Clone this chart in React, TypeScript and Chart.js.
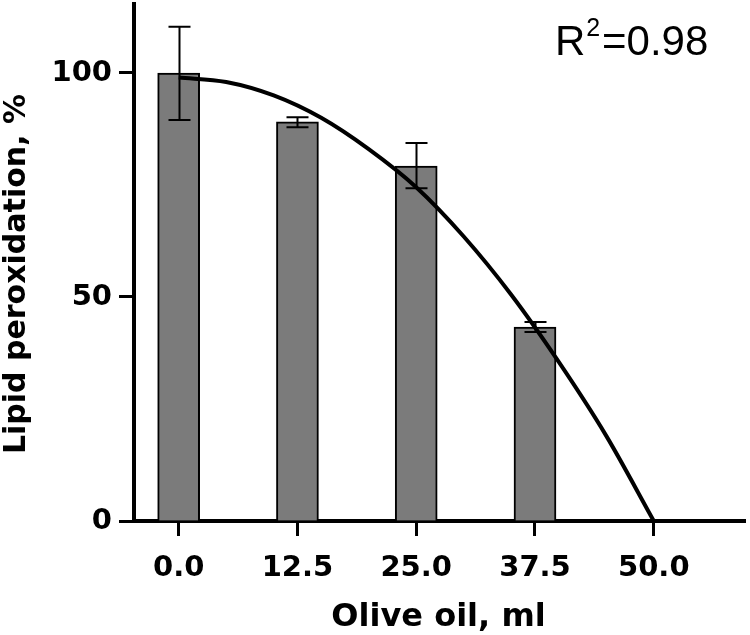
import React, { useEffect, useRef } from "react";
import { Chart, registerables } from "chart.js";
Chart.register(...registerables);

const doseTicks = [0, 12.5, 25, 37.5, 50];
const barDoses = [0, 12.5, 25, 37.5];
const barValues = [100, 89.1, 79.2, 43.3];
const errLow = [89.5, 87.9, 74.3, 42.2];
const errHigh = [110.3, 90.1, 84.4, 44.4];
const fitDoses = [0, 5, 10, 15, 20, 25, 30, 35, 40, 45, 50];
const fitValues = [99, 98, 95, 90, 83, 74.5, 63.5, 50.5, 35.5, 19, 0];
const yTickValues = [0, 50, 100];
const rSquared = "0.98";
const xTitle = "Olive oil, ml";
const yTitle = "Lipid peroxidation, %";

const boldFont = { family: "'DejaVu Sans'", weight: "bold" as const, size: 29 };

const errorBarPlugin = {
  id: "errorBars",
  afterDatasetsDraw(chart: any) {
    const { ctx, scales } = chart;
    const xs = scales.x;
    const ys = scales.y;
    ctx.save();
    ctx.strokeStyle = "#000";
    ctx.lineWidth = 2;
    barDoses.forEach((d, i) => {
      const px = Math.round(xs.getPixelForValue(d)) + 0.5;
      const top = ys.getPixelForValue(errHigh[i]);
      const bot = ys.getPixelForValue(errLow[i]);
      const cap = 11;
      ctx.beginPath();
      ctx.moveTo(px, top);
      ctx.lineTo(px, bot);
      ctx.moveTo(px - cap, top);
      ctx.lineTo(px + cap, top);
      ctx.moveTo(px - cap, bot);
      ctx.lineTo(px + cap, bot);
      ctx.stroke();
    });
    ctx.restore();
  },
};

const textPlugin = {
  id: "texts",
  afterDraw(chart: any) {
    const { ctx, chartArea } = chart;
    ctx.save();
    ctx.fillStyle = "#000";
    // x title
    ctx.font = "bold 32px 'DejaVu Sans'";
    ctx.textAlign = "center";
    ctx.textBaseline = "alphabetic";
    ctx.fillText(xTitle, (chartArea.left + chartArea.right) / 2 - 1, 626);
    // y title
    ctx.save();
    ctx.translate(25, 274);
    ctx.rotate(-Math.PI / 2);
    ctx.font = "bold 30px 'DejaVu Sans'";
    ctx.textAlign = "center";
    ctx.fillText(yTitle, 0, 0);
    ctx.restore();
    // R^2 annotation
    ctx.textAlign = "left";
    ctx.font = "42px 'Liberation Sans'";
    ctx.fillText("R", 555, 55);
    const rw = ctx.measureText("R").width;
    ctx.font = "25px 'Liberation Sans'";
    ctx.fillText("2", 555 + rw + 1, 36);
    ctx.font = "42px 'Liberation Sans'";
    ctx.fillText("=" + rSquared, 602, 55);
    ctx.restore();
  },
};

export default function App() {
  const ref = useRef<HTMLCanvasElement | null>(null);
  useEffect(() => {
    if (!ref.current) return;
    const chart = new Chart(ref.current, {
      type: "bar",
      data: {
        datasets: [
          {
            type: "line",
            data: fitDoses.map((x, i) => ({ x, y: fitValues[i] })),
            borderColor: "#000",
            borderWidth: 4,
            pointRadius: 0,
            tension: 0.4,
            cubicInterpolationMode: "monotone",
            fill: false,
            order: 0,
          } as any,
          {
            type: "bar",
            data: barDoses.map((x, i) => ({ x, y: barValues[i] })),
            backgroundColor: "#7b7b7b",
            borderColor: "#000",
            borderWidth: 2,
            barThickness: 42,
            order: 1,
          } as any,
        ],
      },
      options: {
        animation: false,
        responsive: false,
        devicePixelRatio: 1,
        layout: { padding: { top: 4, right: 5, left: 0, bottom: 0 } },
        plugins: { legend: { display: false }, tooltip: { enabled: false } },
        scales: {
          x: {
            type: "linear",
            offset: false,
            min: -4.7,
            max: 59.6,
            afterBuildTicks: (s: any) => {
              s.ticks = doseTicks.map((v) => ({ value: v }));
            },
            afterFit: (s: any) => {
              s.height = 114;
              s.paddingLeft = 0;
              s.paddingRight = 0;
            },
            ticks: {
              callback: (v: any) => Number(v).toFixed(1),
              font: boldFont,
              color: "#000",
              padding: 15,
              maxRotation: 0,
              autoSkip: false,
            },
            grid: { offset: false, drawOnChartArea: false, tickLength: 15, tickWidth: 3, tickColor: "#000" },
            border: { color: "#000", width: 4 },
          },
          y: {
            min: 0,
            max: 115.4,
            afterBuildTicks: (s: any) => {
              s.ticks = yTickValues.map((v) => ({ value: v }));
            },
            afterFit: (s: any) => {
              s.width = 134;
              s.paddingTop = 0;
              s.paddingBottom = 0;
            },
            ticks: { font: boldFont, color: "#000", padding: 7 },
            grid: { drawOnChartArea: false, tickLength: 15, tickWidth: 3, tickColor: "#000" },
            border: { color: "#000", width: 4 },
          },
        },
      } as any,
      plugins: [errorBarPlugin, textPlugin],
    });
    return () => chart.destroy();
  }, []);
  return (
    <canvas
      ref={ref}
      width={750}
      height={635}
      style={{ position: "absolute", left: 0, top: 0, display: "block" }}
    />
  );
}
